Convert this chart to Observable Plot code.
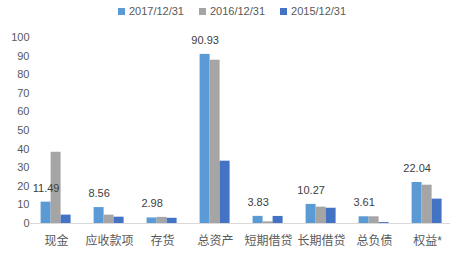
<!DOCTYPE html>
<html><head><meta charset="utf-8">
<script src="https://cdn.jsdelivr.net/npm/d3@7"></script>
<script src="https://cdn.jsdelivr.net/npm/@observablehq/plot@0.6"></script>
<style>
body{margin:0;background:#fff;font-family:"Liberation Sans","Noto Sans CJK SC",sans-serif;}
#legend{height:24px;display:flex;justify-content:center;align-items:center;gap:15px;padding-left:14px;padding-top:0;box-sizing:border-box;font-size:11px;color:#595959;}
#legend span.sw{display:inline-block;width:7px;height:7px;margin-right:4px;vertical-align:middle;}
#legend .it{display:flex;align-items:center;margin-top:-2px;}
</style></head><body>
<div id="legend"></div>
<div id="chart"></div>
<script>
const categories = ["现金","应收款项","存货","总资产","短期借贷","长期借贷","总负债","权益*"];
const series = ["2017/12/31","2016/12/31","2015/12/31"];
const colors = ["#5B9BD5","#A5A5A5","#4472C4"];
const v2017 = [11.49, 8.56, 2.98, 90.93, 3.83, 10.27, 3.61, 22.04];
const v2016 = [38.3, 4.5, 3.3, 87.8, 0.9, 8.8, 3.6, 20.6];
const v2015 = [4.5, 3.4, 2.8, 33.5, 3.8, 8.2, 0.5, 13.1];
const yTicks = d3.range(0, 101, 10);

const vals = [v2017, v2016, v2015];
const data = [];
categories.forEach((c, i) => series.forEach((s, j) => data.push({cat: c, series: s, value: vals[j][i]})));
const labels = data.filter(d => d.series === series[0]);

const leg = document.getElementById("legend");
series.forEach((s, j) => {
  const it = document.createElement("div"); it.className = "it";
  it.innerHTML = `<span class="sw" style="background:${colors[j]}"></span><span>${s}</span>`;
  leg.appendChild(it);
});

const step = (454 - 28.4) / categories.length;
const gapHalf = step * 0.4 / 2;

const chart = Plot.plot({
  width: 450, height: 231,
  marginTop: 13, marginBottom: 32, marginLeft: 28.4, marginRight: -4,
  style: {fontFamily: '"Liberation Sans","Noto Sans CJK SC",sans-serif', color: "#595959", background: "transparent"},
  fx: {domain: categories, paddingInner: 0.4, paddingOuter: 0.2, label: null, axis: null},
  x: {domain: series, padding: 0, axis: null},
  y: {domain: [0, 100], ticks: yTicks, label: null, axis: null},
  color: {domain: series, range: colors},
  marks: [
    Plot.axisY({ticks: yTicks, tickSize: 0, tickPadding: 11, fontSize: 11, label: null, facetAnchor: "left"}),
    Plot.axisFx({anchor: "bottom", tickSize: 0, tickPadding: 13, fontSize: 12, label: null}),
    Plot.barY(data, {fx: "cat", x: "series", y: "value", fill: "series"}),
    Plot.ruleY([0], {stroke: "#D9D9D9", strokeWidth: 1, insetLeft: -gapHalf, insetRight: -gapHalf}),
    Plot.text(labels, {fx: "cat", x: "series", y: "value", text: d => d.value.toFixed(2), dy: -14, fontSize: 11, fill: "#404040"})
  ]
});
document.getElementById("chart").appendChild(chart);
</script>
</body></html>
